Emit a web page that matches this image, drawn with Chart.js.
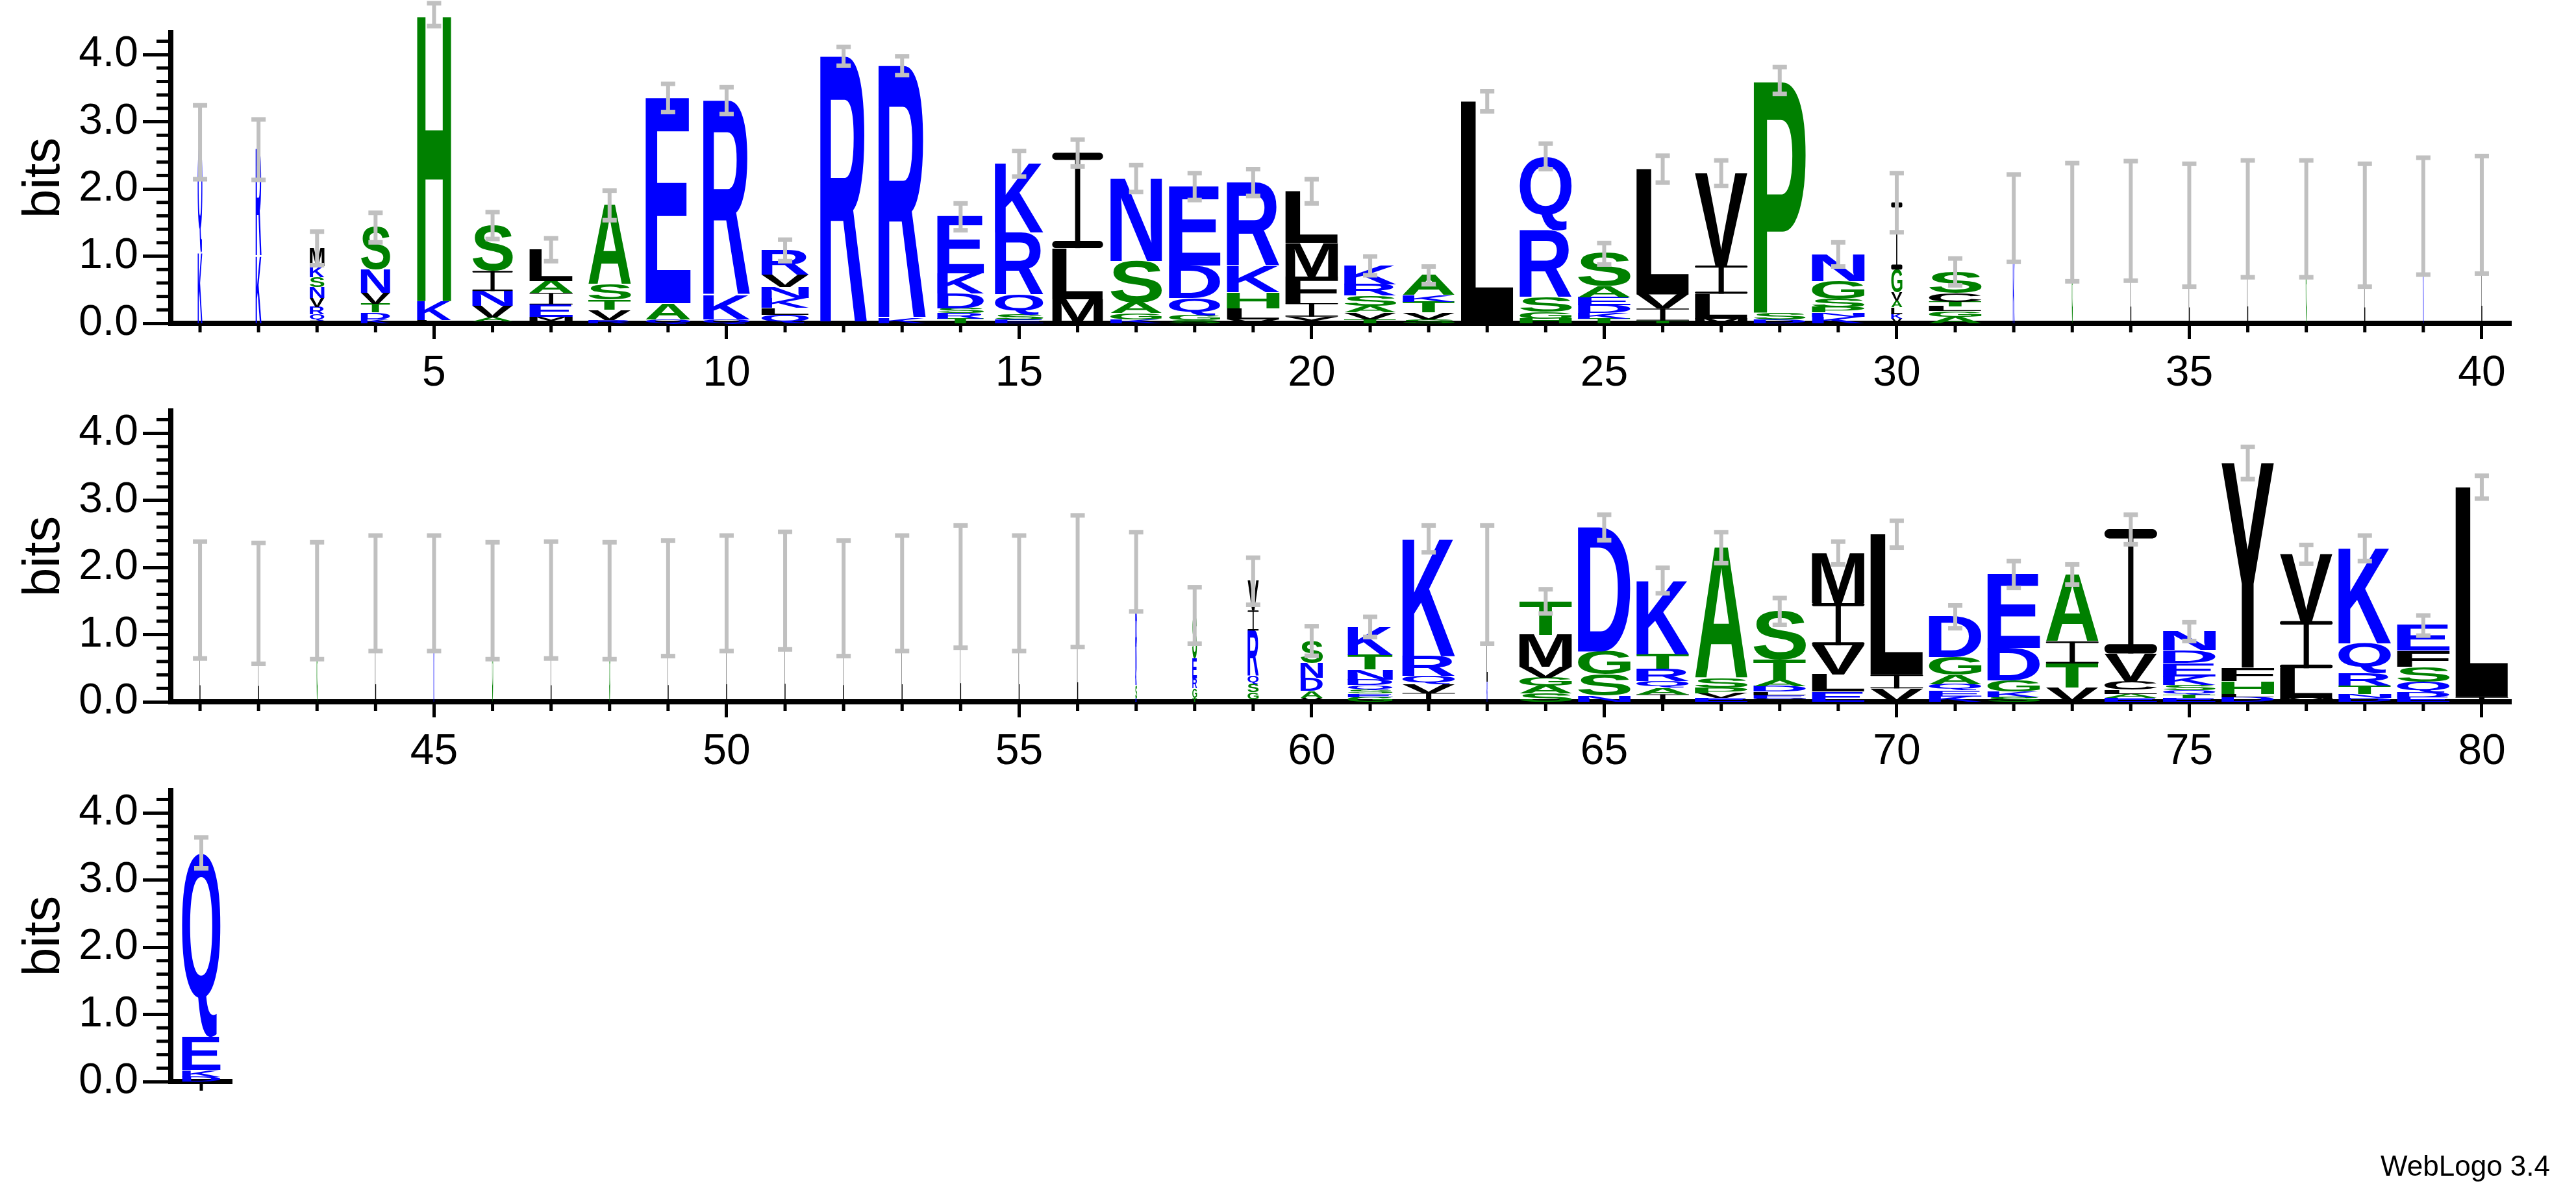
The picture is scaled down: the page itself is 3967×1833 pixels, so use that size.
<!DOCTYPE html>
<html><head><meta charset="utf-8">
<script src="https://cdn.jsdelivr.net/npm/chart.js@4/dist/chart.umd.min.js"></script>
<style>
html,body{margin:0;padding:0;background:#fff;}
#wrap{position:relative;width:3967px;height:1833px;overflow:hidden;background:#fff;}
canvas{position:absolute;left:0;}
#credit{position:absolute;right:40px;bottom:12px;font:44px "Liberation Sans",Arial,sans-serif;color:#000;}
</style></head>
<body><div id="wrap">
<canvas id="c1" width="3967" height="608" style="top:0px;width:3967px;height:608px"></canvas>
<canvas id="c2" width="3967" height="608" style="top:583px;width:3967px;height:608px"></canvas>
<canvas id="c3" width="3967" height="608" style="top:1168px;width:3967px;height:608px"></canvas>
<div id="credit">WebLogo 3.4</div>
</div>
<script>
// letters of each position, bottom to top (position = index + 1)
const POS_LETTERS = ["KQ","KR","IQRVNSKM","KDTVNS","LKH","LAVNIS","VMEIAL","RVTSA","QAE","QKR",
"QLKNVR","R","KR","TRSDKE","ESQRK","MLI","KGASN","SGQDE","VLHKR","YIFML",
"TVASRK","SVTKA","L","HGSRQ","TKDEAS","TIVL","MLIV","DSP","KNPSGN","VKLAVGI",
"AGLTCS","KRQP","G","L","L","L","G","L","K","L",
"L","L","G","L","K","G","L","G","L","L",
"L","L","L","L","L","L","DSKRAG","TGRES","LGSQRIV","VADNS",
"GESQDNTK","IVQRK","KLI","SAGVMT","NSGD","IAQRTK","EVPSA","VELDATS","ELVIM","VIL",
"KEQAGD","SKGDE","VTIA","EALCVI","ETQSKEDN","DLHFY","MLIV","DNTRQK","EDQSFE","IL",
"DKEQ"];
// bits of each letter, bottom to top
const POS_HEIGHTS = [[1.05,1.65],[1.0,1.59],[.04,.09,.11,.14,.16,.15,.16,.27],[.06,.1,.13,.16,.35,.63],[.05,.28,4.27],
[.03,.06,.17,.22,.3,.68],[.04,.06,.18,.17,.18,.47],[.05,.15,.15,.23,1.18],[.06,.24,3.06],[.06,.36,2.9],
[.13,.1,.15,.16,.18,.37],[3.98],[.07,3.77],[.07,.08,.07,.22,.3,.85],[.06,.07,.3,.92,1.03],
[.36,.76,1.42],[.06,.09,.16,.62,1.23],[.05,.07,.26,.48,1.18],[.06,.16,.24,.39,1.25],[.1,.2,.4,.5,.77],
[.06,.1,.1,.15,.17,.28],[.06,.1,.16,.1,.3],[3.31],[.07,.1,.22,1.0,1.1],[.07,.08,.12,.12,.16,.49],
[.04,.18,.21,1.87],[.07,.37,.42,1.38],[.06,.1,3.46],[.1,.06,.08,.12,.27,.4],[.07,.07,.1,.1,.12,.34,1.0],
[.1,.08,.07,.07,.13,.32],[.9,.3,.2,.17],[1.51],[1.53],[1.465],[1.56],[1.56],[1.465],[1.6],[1.62],
[1.52],[1.47],[1.51],[1.62],[1.62],[1.51],[1.52],[1.51],[1.545],[1.62],
[1.66],[1.545],[1.62],[1.72],[1.62],[1.8],[.05,.2,.25,.85,.2,.39],[.06,.14,.15,.3,.64],[.04,.1,.12,.12,.68,.3,.44],[.06,.1,.2,.22,.33],
[.07,.05,.06,.07,.08,.15,.22,.42],[.13,.13,.12,.3,1.75],[.3,.9,.55],[.12,.12,.12,.16,.48,.5],[.09,.32,.34,1.85],
[.11,.1,.1,.18,.22,1.1],[.06,.07,.08,.14,1.95],[.05,.05,.05,.08,.1,.3,.72],[.15,.26,.43,.63,.75],[.2,.2,2.1],
[.08,.09,.09,.14,.27,.6],[.07,.08,.17,.48,1.1],[.21,.36,.33,1.0],[.06,.06,.06,.12,.42,1.85],[.06,.05,.06,.08,.13,.2,.19,.28],
[.07,.05,.19,.2,3.05],[.06,.44,.7,1.0],[.06,.06,.12,.18,.45,1.42],[.07,.07,.16,.22,.24,.38],[.07,3.13],
[.07,.1,.5,2.74]];
// column width, fraction of one position
const POS_WIDTHS = [.08,.1,.25,.5,.58,.69,.74,.73,.77,.8,
.81,.8,.81,.8,.83,.87,.88,.88,.9,.9,
.89,.89,.9,.89,.9,.9,.9,.89,.9,.19,
.9,.03,.015,.015,.015,.015,.015,.015,.015,.015,
.012,.012,.012,.012,.012,.012,.012,.012,.012,.012,
.012,.012,.012,.012,.012,.012,.03,.08,.19,.38,
.77,.9,.02,.9,.9,.9,.9,.9,.9,.9,
.9,.9,.9,.9,.9,.9,.9,.9,.9,.9,
.63];
// error bar half length (bits)
const ERR_HALF = [.55,.45,.25,.22,.17,.2,.17,.22,.21,.2,
.16,.14,.14,.2,.19,.2,.2,.2,.2,.18,
.14,.13,.15,.19,.16,.2,.19,.2,.18,.44,
.2,.65,.88,.89,.915,.87,.87,.915,.87,.875,
.87,.9,.87,.86,.86,.87,.87,.87,.86,.86,
.875,.86,.86,.91,.86,.98,.59,.42,.35,.22,
.15,.2,.88,.18,.19,.19,.23,.2,.17,.2,
.17,.2,.15,.22,.14,.24,.14,.19,.15,.17,
.23];
const X_TICKS_MAJOR = [5,10,15,20,25,30,35,40,45,50,55,60,65,70,75,80];
const Y_TICKS = [0,1,2,3,4];
const ROWS = [[0.5,40.5],[40.5,80.5],[80.5,81.5]];

const BLUE = new Set(["K","R","D","E","N","Q"]);
const GREEN = new Set(["S","T","G","A","P","H"]);
function colorOf(ch){ return BLUE.has(ch) ? '#0000ff' : GREEN.has(ch) ? '#008000' : '#000000'; }

const GLYPH_FONT = 'bold 200px "Liberation Sans", Arial, sans-serif';
function drawGlyph(ctx, ch, x, yTop, w, h){
  if (h <= 0 || w <= 0) return;
  ctx.save();
  ctx.fillStyle = colorOf(ch);
  if (ch === 'I') {
    // serif I as drawn by WebLogo
    const bar = Math.max(1, h * 0.075);
    const stem = Math.max(1, w * 0.1);
    const r = Math.min(bar / 2, w / 8);
    ctx.beginPath();
    ctx.roundRect(x, yTop, w, bar, r);
    ctx.roundRect(x, yTop + h - bar, w, bar, r);
    ctx.fill();
    ctx.fillRect(x + (w - stem) / 2, yTop, stem, h);
    ctx.restore();
    return;
  }
  ctx.font = GLYPH_FONT;
  ctx.textAlign = 'left'; ctx.textBaseline = 'alphabetic';
  const m = ctx.measureText(ch);
  const gl = m.actualBoundingBoxLeft, gr = m.actualBoundingBoxRight;
  const ga = m.actualBoundingBoxAscent, gd = m.actualBoundingBoxDescent;
  ctx.translate(x, yTop);
  ctx.scale(w / (gl + gr), h / (ga + gd));
  ctx.fillText(ch, gl, ga);
  ctx.restore();
}

const logoPlugin = {
  id: 'logo',
  afterDraw(chart){
    const ctx = chart.ctx, xs = chart.scales.x, ys = chart.scales.y;
    const area = chart.chartArea;
    ctx.save();
    ctx.fillStyle = '#000';
    for (let k = 1; k <= 21; k++) {
      if (k % 5 === 0) continue;
      const py = ys.getPixelForValue(k * 0.2);
      ctx.fillRect(area.left - 22, py - 2.5, 22, 5);
    }
    for (let p = Math.ceil(xs.min); p <= xs.max; p++) {
      if (p % 5 === 0) continue;
      const px = xs.getPixelForValue(p);
      ctx.fillRect(px - 2.5, area.bottom, 5, 14);
    }
    ctx.restore();
    chart.data.datasets[0].data.forEach(pt => {
      const i = pt.x - 1;
      const cx = xs.getPixelForValue(pt.x);
      const unit = xs.getPixelForValue(pt.x + 1) - cx;
      const w = Math.max(1.5, POS_WIDTHS[i] * unit);
      const L = POS_LETTERS[i], H = POS_HEIGHTS[i];
      let acc = 0;
      for (let k = 0; k < L.length; k++) {
        const y0 = ys.getPixelForValue(acc), y1 = ys.getPixelForValue(acc + H[k]);
        drawGlyph(ctx, L[k], cx - w / 2, y1, w, y0 - y1);
        acc += H[k];
      }
      const e = ERR_HALF[i];
      const ya = ys.getPixelForValue(acc + e), yb = ys.getPixelForValue(Math.max(0, acc - e));
      ctx.save();
      ctx.fillStyle = '#c0c0c0';
      ctx.fillRect(cx - 3, ya, 6, yb - ya);
      ctx.fillRect(cx - 11, ya - 3, 22, 7);
      ctx.fillRect(cx - 11, yb - 3, 22, 7);
      ctx.restore();
    });
  }
};

Chart.defaults.font.family = '"Liberation Sans", Arial, sans-serif';
Chart.defaults.color = '#000';

ROWS.forEach((r, idx) => {
  const pts = [];
  POS_LETTERS.forEach((s, i) => {
    const p = i + 1;
    if (p > r[0] && p < r[1]) pts.push({ x: p, y: POS_HEIGHTS[i].reduce((a, b) => a + b, 0) });
  });
  const rightPx = idx === 2 ? 357 : 3867;
  new Chart(document.getElementById('c' + (idx + 1)), {
    type: 'scatter',
    data: { datasets: [{ data: pts, pointRadius: 0, showLine: false }] },
    plugins: [logoPlugin],
    options: {
      responsive: false, animation: false, devicePixelRatio: 1,
      layout: { padding: { top: 50, left: 0, right: 3967 - rightPx, bottom: 0 } },
      plugins: { legend: { display: false }, tooltip: { enabled: false } },
      scales: {
        x: {
          type: 'linear', min: r[0], max: r[1],
          afterBuildTicks: s => { s.ticks = X_TICKS_MAJOR.filter(v => v >= s.min && v <= s.max).map(v => ({ value: v })); },
          afterFit: s => { s.height = 110; },
          grid: { drawOnChartArea: false, drawTicks: true, tickLength: 24, tickWidth: 5, tickColor: '#000' },
          border: { display: true, color: '#000', width: 8 },
          ticks: { font: { size: 66 }, padding: 14, maxRotation: 0, autoSkip: false, callback: v => String(v) }
        },
        y: {
          min: 0, max: 4.33,
          afterBuildTicks: s => { s.ticks = Y_TICKS.map(v => ({ value: v })); },
          afterFit: s => { s.width = 263; },
          grid: { drawOnChartArea: false, drawTicks: true, tickLength: 43, tickWidth: 5, tickColor: '#000' },
          border: { display: true, color: '#000', width: 8 },
          ticks: { font: { size: 66 }, padding: 7, callback: v => Number(v).toFixed(1) },
          title: { display: true, text: 'bits', font: { size: 80, lineHeight: 1 }, padding: { top: 29, bottom: 0 } }
        }
      }
    }
  });
});
</script>
</body></html>
